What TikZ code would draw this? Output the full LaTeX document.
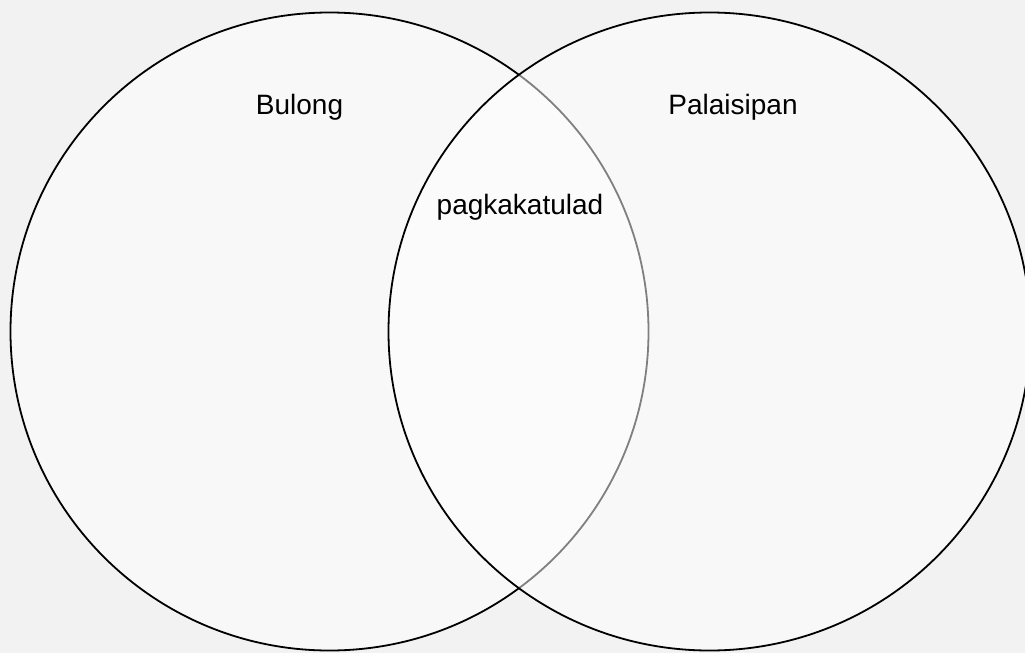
\documentclass[tikz,border=0pt]{standalone}
\usepackage{fontspec}
\setmainfont{Liberation Sans}
\definecolor{bgc}{HTML}{F2F2F2}
\begin{document}
\begin{tikzpicture}[x=1pt,y=-1pt,
  setcircle/.style={draw=black,line width=1.8pt,fill=white,fill opacity=0.5,draw opacity=1},
  lbl/.style={anchor=base,inner sep=0pt,font=\fontsize{28}{33}\selectfont,text=black}]
\fill[bgc] (0,0) rectangle (1025,653);
\useasboundingbox (0,0) rectangle (1025,653);
\coordinate (cl) at (329.5,331.5);
\coordinate (cr) at (709.5,331.5);
\path[setcircle] (cl) circle[radius=319];
\path[setcircle] (cr) ellipse[x radius=321,y radius=319];
\node[lbl] (bulong) at (299.5,114) {Bulong};
\node[lbl] (pala) at (733,114) {Palaisipan};
\node[lbl] (pagk) at (520,214) {pagkakatulad};
\end{tikzpicture}
\end{document}
